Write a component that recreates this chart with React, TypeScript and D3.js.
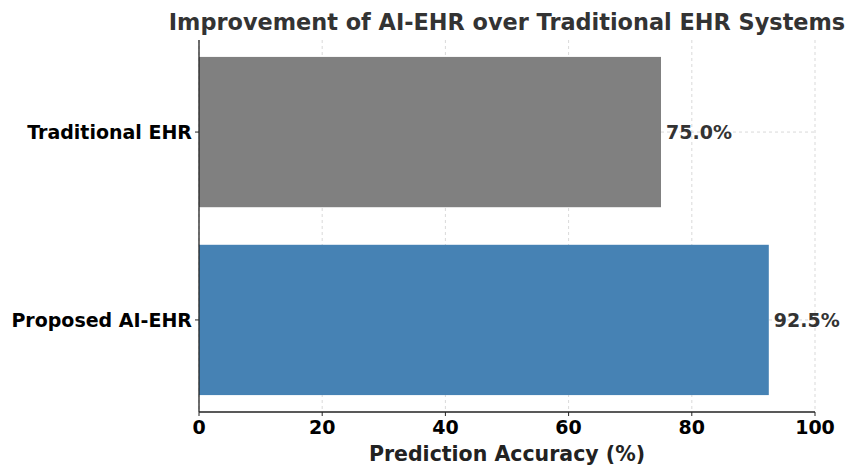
import React from "react";
import * as d3 from "d3";

const categories = ["Proposed AI-EHR", "Traditional EHR"];
const accuracy = [92.5, 75.0];
const barColors = ["#4682B4", "#808080"];
const xTicks = [0, 20, 40, 60, 80, 100];
const title = "Improvement of AI-EHR over Traditional EHR Systems";
const xLabel = "Prediction Accuracy (%)";

export default function App() {
  const W = 846, H = 467;
  const left = 199, right = 815, top = 40, bottom = 412;
  const x = d3.scaleLinear().domain([0, 100]).range([left, right]);
  const y = d3.scaleLinear().domain([-0.49, 1.49]).range([bottom, top]);
  const barH = 0.8;
  const font = "'DejaVu Sans', sans-serif";
  return (
    <svg width={W} height={H} style={{ position: "absolute", left: 0, top: 0 }} fontFamily={font}>
      <rect width={W} height={H} fill="#fff" />
      {/* grid */}
      {xTicks.map((t) => (
        <line key={"gx" + t} x1={x(t)} x2={x(t)} y1={top} y2={bottom} stroke="#cfcfcf" strokeDasharray="3,3" strokeWidth={0.8} />
      ))}
      {categories.map((c, i) => (
        <line key={"gy" + c} x1={left} x2={right} y1={y(i)} y2={y(i)} stroke="#cfcfcf" strokeDasharray="3,3" strokeWidth={0.8} />
      ))}
      {/* bars */}
      {categories.map((c, i) => (
        <rect key={c} x={x(0)} y={y(i + barH / 2)} width={x(accuracy[i]) - x(0)} height={y(i - barH / 2) - y(i + barH / 2)} fill={barColors[i]} />
      ))}
      {/* value labels */}
      {categories.map((c, i) => (
        <text key={"v" + c} x={x(accuracy[i]) + 5} y={y(i)} dy="0.35em" fontSize={19} fontWeight="bold" fill="#333">
          {accuracy[i].toFixed(1) + "%"}
        </text>
      ))}
      {/* axes */}
      <line x1={left} x2={left} y1={top} y2={bottom} stroke="#222" strokeWidth={1.3} />
      <line x1={left} x2={right} y1={bottom} y2={bottom} stroke="#222" strokeWidth={1.3} />
      {xTicks.map((t) => (
        <g key={"xt" + t}>
          <line x1={x(t)} x2={x(t)} y1={bottom} y2={bottom + 4} stroke="#222" />
          <text x={x(t)} y={bottom + 22} textAnchor="middle" fontSize={19} fontWeight="bold" fill="#000">{t}</text>
        </g>
      ))}
      {categories.map((c, i) => (
        <g key={"yt" + c}>
          <line x1={left - 4} x2={left} y1={y(i)} y2={y(i)} stroke="#222" />
          <text x={left - 7} y={y(i)} dy="0.35em" textAnchor="end" fontSize={19} fontWeight="bold" fill="#000">{c}</text>
        </g>
      ))}
      <text x={(left + right) / 2} y={461} textAnchor="middle" fontSize={20.5} fontWeight="bold" fill="#222">{xLabel}</text>
      <text x={(left + right) / 2} y={30} textAnchor="middle" fontSize={22.4} fontWeight="bold" fill="#333">{title}</text>
    </svg>
  );
}
